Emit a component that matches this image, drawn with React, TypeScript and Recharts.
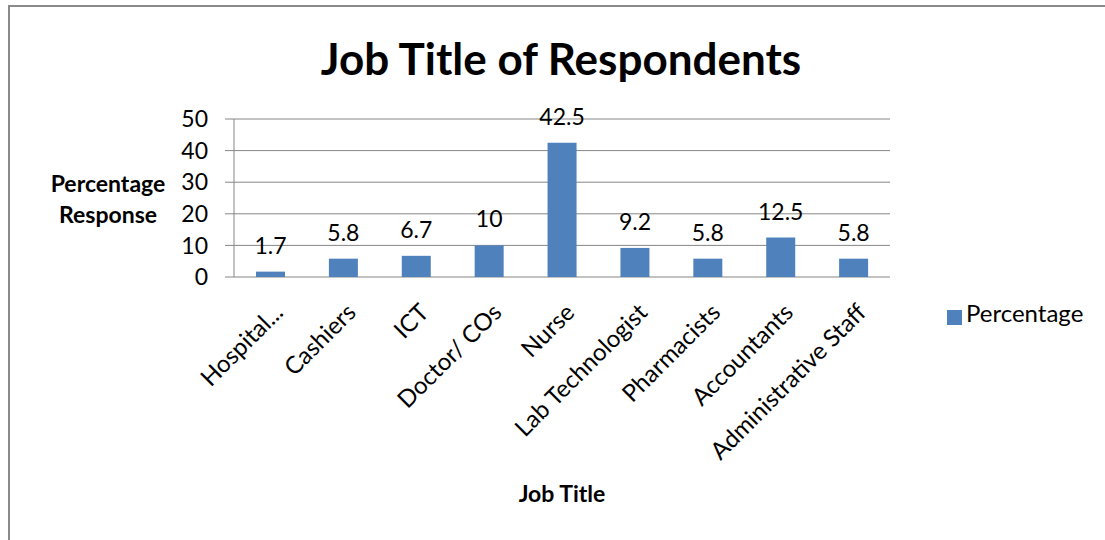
import {
  Bar,
  BarChart,
  CartesianGrid,
  Customized,
  LabelList,
  Legend,
  XAxis,
  YAxis,
} from "recharts"

const jobTitles = [
  "Hospital...",
  "Cashiers",
  "ICT",
  "Doctor/ COs",
  "Nurse",
  "Lab Technologist",
  "Pharmacists",
  "Accountants",
  "Administrative Staff",
]

const percentages = [1.7, 5.8, 6.7, 10, 42.5, 9.2, 5.8, 12.5, 5.8]

const yTicks = [0, 10, 20, 30, 40, 50]

// category boundaries, used for the tick marks under the axis
const edgeTicks = jobTitles.map((_, i) => i).concat(jobTitles.length)

const data = jobTitles.map((title, i) => ({ title, value: percentages[i] }))

const FONT = "Lato, 'Noto Sans', sans-serif"
const GRID = "#868686"
const BLUE = "#4F81BD"

function RotatedTick(props: any) {
  const { x, y, payload } = props
  const ax = x + 14
  const ay = y + 29
  return (
    <text
      x={ax}
      y={ay}
      transform={`rotate(-45, ${ax}, ${ay})`}
      textAnchor="end"
      fontSize={24}
      fontFamily={FONT}
      fill="#000"
    >
      {payload.value}
    </text>
  )
}

function Frame() {
  return (
    <g>
      <path d="M 9 560 L 9 6 L 1120 6" fill="none" stroke="#8a8a8a" strokeWidth={2} />
      <text x={561} y={75} textAnchor="middle" fontSize={44} fontWeight="bold" fontFamily={FONT} fill="#000">
        Job Title of Respondents
      </text>
    </g>
  )
}

export default function App() {
  return (
    <div style={{ position: "fixed", left: 0, top: 0, width: 1105, height: 540, overflow: "hidden", background: "#fff" }}>
      <BarChart
        width={1105}
        height={540}
        data={data}
        margin={{ top: 119, right: 215, bottom: 0, left: 0 }}
        style={{ fontFamily: FONT }}
      >
        <CartesianGrid vertical={false} stroke={GRID} xAxisId="cat" />
        <XAxis
          xAxisId="edges"
          type="number"
          domain={[0, jobTitles.length]}
          ticks={edgeTicks}
          height={0}
          tick={() => <g />}
          tickSize={8}
          tickLine={{ stroke: GRID }}
          axisLine={{ stroke: GRID }}
        />
        <XAxis
          xAxisId="cat"
          dataKey="title"
          height={263}
          interval={0}
          tickLine={false}
          axisLine={false}
          tick={<RotatedTick />}
          label={{
            content: ({ viewBox }: any) => (
              <text
                x={viewBox.x + viewBox.width / 2}
                y={viewBox.y + 225}
                textAnchor="middle"
                fontSize={23}
                fontWeight="bold"
                fontFamily={FONT}
                fill="#000"
              >
                Job Title
              </text>
            ),
          }}
        />
        <YAxis
          width={234}
          domain={[0, 50]}
          ticks={yTicks}
          tickSize={9}
          tickMargin={17}
          tickLine={{ stroke: GRID }}
          axisLine={{ stroke: GRID }}
          tick={{ fill: "#000", fontSize: 23, fontFamily: FONT }}
          label={{
            content: () => (
              <text textAnchor="middle" fontSize={23} fontWeight="bold" fontFamily={FONT} fill="#000">
                <tspan x={108} y={192}>Percentage</tspan>
                <tspan x={108} y={223}>Response</tspan>
              </text>
            ),
          }}
        />
        <Legend
          layout="vertical"
          align="center"
          verticalAlign="middle"
          iconType="square"
          iconSize={15}
          wrapperStyle={{ left: 947, top: 298, width: 158, height: 34 }}
          formatter={(value) => <span style={{ color: "#000", fontSize: 24, fontFamily: FONT }}>{value}</span>}
        />
        <Bar
          xAxisId="cat"
          dataKey="value"
          name="Percentage"
          fill={BLUE}
          barSize={29}
          isAnimationActive={false}
        >
          <LabelList dataKey="value" position="top" offset={18} fill="#000" fontSize={23} fontFamily={FONT} />
        </Bar>
        <Customized component={Frame} />
      </BarChart>
    </div>
  )
}
